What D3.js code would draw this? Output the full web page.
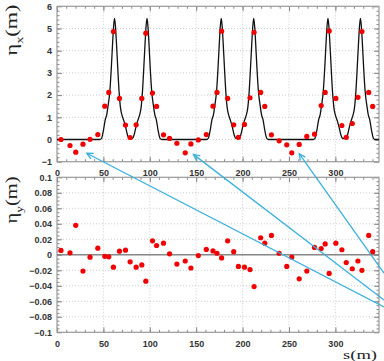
<!DOCTYPE html>
<html>
<head>
<meta charset="utf-8">
<script src="https://cdn.jsdelivr.net/npm/d3@7"></script>
<style>
  body { margin: 0; background: #fff; }
  svg { display: block; }
  .tick text { font-family: "Liberation Sans", Arial, sans-serif; font-weight: bold; font-size: 9px; fill: #333; }
</style>
</head>
<body>
<div id="chart"></div>
<script>
// BPM positions (m)
const bpmS = [4.3, 14, 20.2, 28, 35.6, 44, 51.5, 55.8, 60.8, 67.3, 73.8, 78.8, 85.3, 91.4, 95.7, 102.9, 107.3, 114.8, 121.3, 129.2, 138.2, 144.3,
  152.3, 160.9, 168.1, 172.4, 177.4, 183.9, 190.4, 195.5, 202, 208, 212.4, 219.5, 223.9, 231.1, 239.4, 247.6, 253, 261, 269.2,
  277.5, 284.7, 289, 293.3, 300.5, 307, 311.7, 318.2, 324.3, 328.6, 335.9, 340.2];

// measured horizontal dispersion (m)
const etaXMeas = [0, -0.27, -0.57, -0.21, 0.01, 0.22, 1.5, 2.12, 4.86, 1.85, 0.65, 0.09, 0.66, 1.85, 4.79, 2.09, 1.49, 0.21, 0.05, -0.17, -0.6, -0.2,
  -0.02, 0.22, 1.5, 2.12, 4.88, 1.85, 0.66, 0.1, 0.68, 1.88, 4.83, 2.12, 1.49, 0.21, -0.06, -0.24, -0.6, -0.22, 0.14,
  0.24, 1.53, 2.12, 4.89, 1.85, 0.63, 0.1, 0.72, 1.9, 4.86, 2.12, 1.49];

// measured vertical dispersion (m)
const etaYMeas = [0.0056, 0.0026, 0.038, -0.021, -0.003, 0.0086, -0.002, -0.0026, -0.016, 0.0047, 0.006, -0.009, -0.016, -0.013, -0.034, 0.018, 0.012, 0.015, 0.0013, -0.012, -0.008, -0.017,
  -0.001, 0.007, 0.005, 0.002, -0.004, 0.018, 0.004, -0.015, -0.016, -0.019, -0.041, 0.022, 0.015, 0.025, 0.002, -0.015, -0.003, -0.031, -0.021,
  0.0095, 0.008, 0.014, -0.024, 0.015, 0.0065, -0.01, -0.018, -0.008, -0.02, 0.025, 0.004];

// model horizontal dispersion
const modelS = [0, 46, 48, 50, 52, 53.5, 55, 57, 58.5, 60, 61, 62, 63, 64, 65.5, 67, 68.5, 70, 72, 74, 76, 77.5, 79.5, 81.5, 83, 85, 87, 89, 90.5, 92, 93.5, 95, 96, 97, 98, 99, 100.5, 102, 104, 105.5, 107, 109, 111, 113,
  161, 163, 165, 167, 168.5, 170, 172, 173.5, 175, 176, 177, 178, 179, 180.5, 182, 183.5, 185, 187, 189, 191, 192.5, 194.5, 196.5, 198, 200, 202, 204, 205.5, 207, 208.5, 210, 211, 212, 213, 214, 215.5, 217, 219, 220.5, 222, 224, 226, 228,
  276, 278, 280, 282, 283.5, 285, 287, 288.5, 290, 291, 292, 293, 294, 295.5, 297, 298.5, 300, 302, 304, 306, 307.5, 309.5, 311.5, 313, 315, 317, 319, 320.5, 322, 323.5, 325, 326, 327, 328, 329, 330.5, 332, 334, 335.5, 337, 339, 341, 343, 347];
const modelEta = [0, 0, 0.05, 0.4, 0.9, 1.1, 1.5, 2.2, 3.2, 4.4, 5.1, 5.45, 5.1, 4.4, 3.2, 2.1, 1.4, 1.1, 0.85, 0.55, 0.2, 0.06, 0.04, 0.06, 0.2, 0.55, 0.85, 1.1, 1.4, 2.1, 3.2, 4.4, 5.1, 5.45, 5.1, 4.4, 3.2, 2.2, 1.5, 1.1, 0.9, 0.4, 0.05, 0,
  0, 0.05, 0.4, 0.9, 1.1, 1.5, 2.2, 3.2, 4.4, 5.1, 5.45, 5.1, 4.4, 3.2, 2.1, 1.4, 1.1, 0.85, 0.55, 0.2, 0.06, 0.04, 0.06, 0.2, 0.55, 0.85, 1.1, 1.4, 2.1, 3.2, 4.4, 5.1, 5.45, 5.1, 4.4, 3.2, 2.2, 1.5, 1.1, 0.9, 0.4, 0.05, 0,
  0, 0.05, 0.4, 0.9, 1.1, 1.5, 2.2, 3.2, 4.4, 5.1, 5.45, 5.1, 4.4, 3.2, 2.1, 1.4, 1.1, 0.85, 0.55, 0.2, 0.06, 0.04, 0.06, 0.2, 0.55, 0.85, 1.1, 1.4, 2.1, 3.2, 4.4, 5.1, 5.45, 5.1, 4.4, 3.2, 2.2, 1.5, 1.1, 0.9, 0.4, 0.05, 0, 0];

const sTicks = [0, 50, 100, 150, 200, 250, 300];
const xTicksY = [-1, 0, 1, 2, 3, 4, 5, 6];
const yTicksY = [-0.1, -0.08, -0.06, -0.04, -0.02, 0, 0.02, 0.04, 0.06, 0.08, 0.1];

// where the cyan arrows point (s, eta_x)
const arrowTipS = [32, 147, 261];
const arrowTipEta = [-0.62, -0.67, -0.64];

const width = 384, height = 361;
const left = 57, right = 379;

const svg = d3.select("#chart").append("svg")
  .attr("width", width)
  .attr("height", height);

const x = d3.scaleLinear().domain([0, 347]).range([left, right]);
const yTop = d3.scaleLinear().domain([-1, 6]).range([161.7, 6.3]);
const yBot = d3.scaleLinear().domain([-0.1, 0.1]).range([332.3, 177.3]);

function panel(y, yTicks, yMinor, fmt) {
  const [y0, y1] = y.range();
  const g = svg.append("g");

  // dotted grid
  g.selectAll(".vg").data(sTicks.slice(1)).enter().append("line")
    .attr("x1", d => x(d)).attr("x2", d => x(d))
    .attr("y1", y1).attr("y2", y0)
    .attr("stroke", "#ccc").attr("stroke-dasharray", "1,2");
  g.selectAll(".hg").data(yTicks.slice(1, -1)).enter().append("line")
    .attr("x1", left).attr("x2", right)
    .attr("y1", d => y(d)).attr("y2", d => y(d))
    .attr("stroke", "#ccc").attr("stroke-dasharray", "1,2");

  const xMinor = d3.range(10, 347, 10);
  const axes = [];
  // bottom with labels
  axes.push(g.append("g").attr("transform", `translate(0,${y0})`)
    .call(d3.axisBottom(x).tickValues(sTicks).tickSize(-5).tickPadding(8).tickFormat(d3.format("d"))));
  axes.push(g.append("g").attr("transform", `translate(0,${y0})`)
    .call(d3.axisBottom(x).tickValues(xMinor).tickSize(-2.5).tickFormat("")));
  // top ticks only
  axes.push(g.append("g").attr("transform", `translate(0,${y1})`)
    .call(d3.axisTop(x).tickValues(sTicks).tickSize(-5).tickFormat("")));
  axes.push(g.append("g").attr("transform", `translate(0,${y1})`)
    .call(d3.axisTop(x).tickValues(xMinor).tickSize(-2.5).tickFormat("")));
  // left with labels
  axes.push(g.append("g").attr("transform", `translate(${left},0)`)
    .call(d3.axisLeft(y).tickValues(yTicks).tickSize(-5).tickPadding(5).tickFormat(fmt)));
  axes.push(g.append("g").attr("transform", `translate(${left},0)`)
    .call(d3.axisLeft(y).tickValues(yMinor).tickSize(-2.5).tickFormat("")));
  // right ticks only
  axes.push(g.append("g").attr("transform", `translate(${right},0)`)
    .call(d3.axisRight(y).tickValues(yTicks).tickSize(-5).tickFormat("")));
  axes.push(g.append("g").attr("transform", `translate(${right},0)`)
    .call(d3.axisRight(y).tickValues(yMinor).tickSize(-2.5).tickFormat("")));
  axes.forEach(a => {
    a.selectAll(".domain").remove();
    a.selectAll("line").attr("stroke", "#888");
  });

  g.append("rect")
    .attr("x", left).attr("y", y1)
    .attr("width", right - left).attr("height", y0 - y1)
    .attr("fill", "none").attr("stroke", "#999").attr("stroke-width", 1.2);
  return g;
}

panel(yTop, xTicksY, d3.range(-0.8, 6, 0.2), d3.format("d"));
panel(yBot, yTicksY, d3.range(-0.095, 0.1, 0.005), d => d === 0 ? "0" : d3.format("")(+d.toFixed(2)));

// zero line in the lower panel
svg.append("line")
  .attr("x1", left).attr("x2", right)
  .attr("y1", yBot(0)).attr("y2", yBot(0))
  .attr("stroke", "#888").attr("stroke-width", 1.6);

// model line
const line = d3.line()
  .x((d, i) => x(modelS[i]))
  .y(d => yTop(d))
  .curve(d3.curveMonotoneX);
svg.append("path")
  .attr("d", line(modelEta))
  .attr("fill", "none")
  .attr("stroke", "#111")
  .attr("stroke-width", 1.3);

// measured points
svg.append("g").selectAll("circle").data(etaXMeas).enter().append("circle")
  .attr("cx", (d, i) => x(bpmS[i]))
  .attr("cy", d => yTop(d))
  .attr("r", 2.6)
  .attr("fill", "#f00000");

svg.append("g").selectAll("circle").data(etaYMeas).enter().append("circle")
  .attr("cx", (d, i) => x(bpmS[i]))
  .attr("cy", d => yBot(d))
  .attr("r", 2.6)
  .attr("fill", "#f00000");

// cyan arrows
const tails = [[384, 307], [384, 300], [384, 273]];
const arrows = svg.append("g").attr("stroke", "#3ab0dc").attr("stroke-width", 1.3).attr("fill", "none");
arrowTipS.forEach((s, i) => {
  const tx = x(s), ty = yTop(arrowTipEta[i]);
  const [bx, by] = tails[i];
  arrows.append("line").attr("x1", bx).attr("y1", by).attr("x2", tx).attr("y2", ty);
  const ang = Math.atan2(by - ty, bx - tx);
  const L = 7, a = 0.45;
  arrows.append("path")
    .attr("d", `M${tx + L * Math.cos(ang - a)},${ty + L * Math.sin(ang - a)}L${tx},${ty}L${tx + L * Math.cos(ang + a)},${ty + L * Math.sin(ang + a)}`);
});

// axis titles (wide serif lettering)
const serif = "'Liberation Serif', 'DejaVu Serif', serif";
function yTitle(cy, len, sub) {
  const t = svg.append("text")
    .attr("transform", `translate(17,${cy}) rotate(-90)`)
    .attr("text-anchor", "middle")
    .attr("textLength", len)
    .attr("lengthAdjust", "spacingAndGlyphs")
    .style("font-family", serif)
    .style("font-size", "17px")
    .attr("fill", "#222");
  t.append("tspan").text("η");
  t.append("tspan").attr("baseline-shift", "sub").style("font-size", "11px").text(sub);
  t.append("tspan").text("(m)");
}
yTitle(30, 51, "x");
yTitle(200, 47, "y");

svg.append("text")
  .attr("x", 343).attr("y", 359)
  .attr("textLength", 34)
  .attr("lengthAdjust", "spacingAndGlyphs")
  .style("font-family", serif)
  .style("font-size", "13.5px")
  .attr("fill", "#222")
  .text("s(m)");
</script>
</body>
</html>
